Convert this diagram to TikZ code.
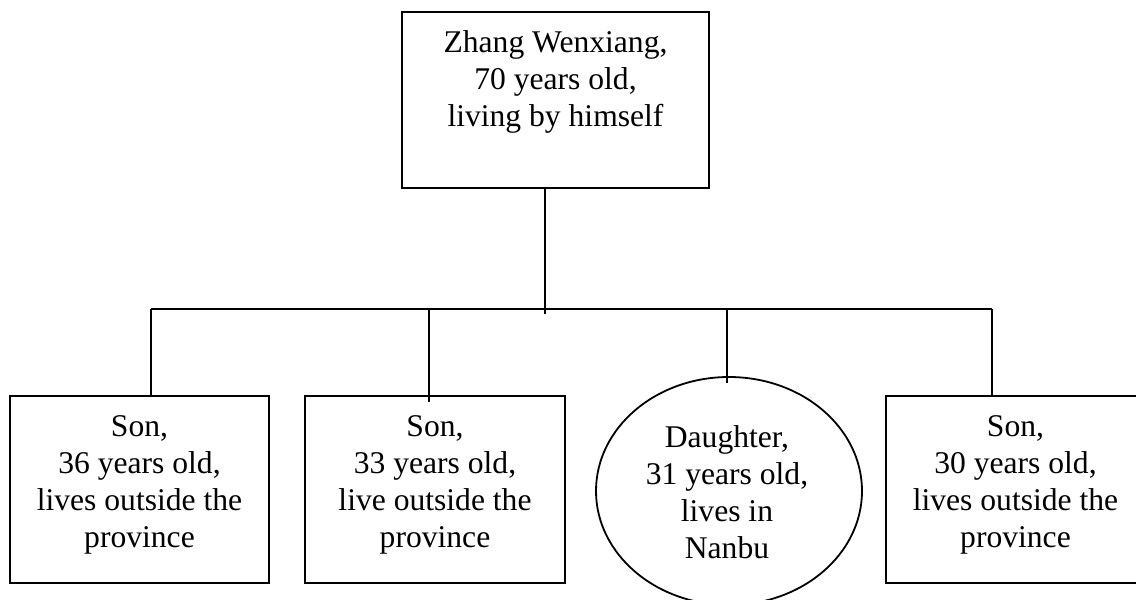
\documentclass[tikz,border=0pt]{standalone}
\usepackage{fontspec}
\setmainfont{Liberation Serif}
\usetikzlibrary{shapes.geometric}
\begin{document}
\begin{tikzpicture}[x=1pt,y=-1pt,
  line width=1.8pt,
  frame/.style={draw=black, rectangle, inner sep=0pt},
  oval/.style={draw=black, ellipse, inner sep=0pt},
  txt/.style={align=center, inner sep=0pt, anchor=north,
    font=\fontsize{31.6}{37}\selectfont},
  link/.style={draw=black, line width=1.8pt}]
\useasboundingbox (0,0) rectangle (1136,600);
\clip (0,0) rectangle (1136,600);

% parent box
\node[frame, minimum width=307pt, minimum height=176pt] (top) at (555.5,100) {};
\node[txt] (toptext) at (555.5,26.1) {\strut Zhang Wenxiang,\\70 years old,\\living by himself};

% children
\node[frame, minimum width=259pt, minimum height=187pt] (c1) at (139.5,489.5) {};
\node[txt] (c1text) at (139.5,410.1) {\strut Son,\\36 years old,\\lives outside the\\province};

\node[frame, minimum width=260pt, minimum height=187pt] (c2) at (435,489.5) {};
\node[txt] (c2text) at (435,410.1) {\strut Son,\\33 years old,\\live outside the\\province};

\node[oval, minimum width=266pt, minimum height=228pt] (c3) at (729,491) {};
\node[txt] (c3text) at (727,421.1) {\strut Daughter,\\31 years old,\\lives in\\Nanbu};

\node[frame, minimum width=260pt, minimum height=187pt] (c4) at (1016,489.5) {};
\node[txt] (c4text) at (1015.5,410.1) {\strut Son,\\30 years old,\\lives outside the\\province};

% connectors
\coordinate (trunkend) at (545,314);
\coordinate (barL) at (151,309);
\coordinate (barR) at (992,309);
\draw[link] (top.south -| trunkend) -- (trunkend);
\draw[link] (barL) -- (barR);
\draw[link] (barL) -- (barL |- c1.north);
\draw[link] (429,309) -- (429,402);
\draw[link] (727,309) -- (727,383);
\draw[link] (barR) -- (barR |- c4.north);
\end{tikzpicture}
\end{document}
